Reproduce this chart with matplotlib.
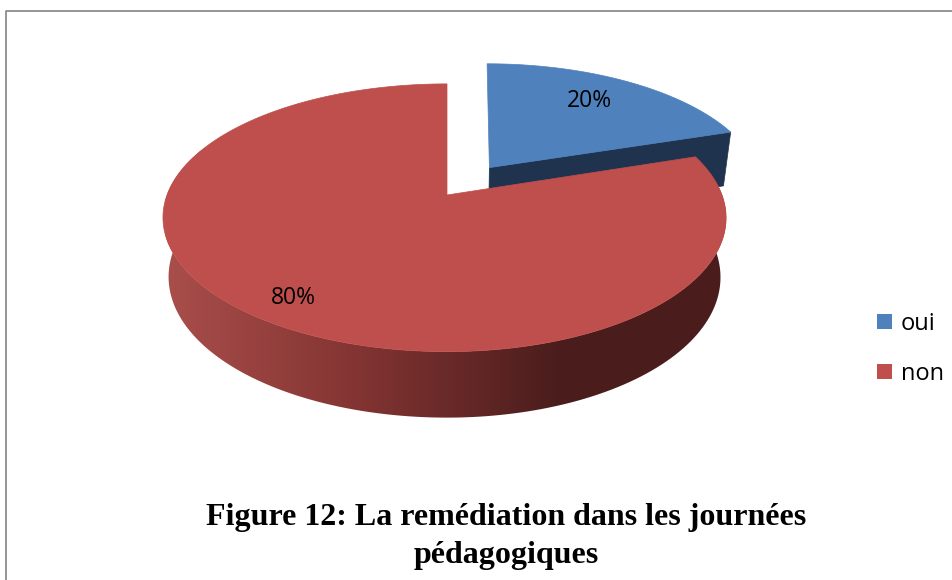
import numpy as np
import matplotlib
matplotlib.use("Agg")
import matplotlib.pyplot as plt
from matplotlib.patches import Polygon, Patch
from matplotlib.colors import LinearSegmentedColormap

categories = ["oui", "non"]
values = [20, 80]
title_lines = ["Figure 12: La remédiation dans les journées", "pédagogiques"]

BLUE = "#4F81BD"
BLUE_DARK = "#1F334F"
RED = "#BE4F4C"

# perspective of the pie, in pixels
APEX_X, APEX_Y = 447, 195
WIDTH, HEIGHT, PERSP = 277, 130, 0.17
EXPLODE = 0.27


# disc coords -> top face of the pie
def project_top(u, v):
    w = 1 + PERSP * v
    return APEX_X + WIDTH * u / w, APEX_Y - HEIGHT * v / w


# same point on the bottom face
def project_bottom(u, v):
    x, y = project_top(u, v)
    return APEX_X + (x - APEX_X) * 0.98, y + 58 - 8 * v


def arc(start, end, cu=0, cv=0):
    t = np.radians(np.linspace(start, end, 200))
    return cu + np.sin(t), cv + np.cos(t)


fig = plt.figure(figsize=(9.53, 5.8), dpi=100)
ax = fig.add_axes([0, 0, 1, 1])
ax.set_xlim(0, 953)
ax.set_ylim(580, 0)
ax.axis("off")

# chart frame
ax.plot([6.5, 6.5, 953], [580, 10.5, 10.5], color="#8E8E8E", lw=1.3)

split = 360 * values[0] / sum(values)

# exploded blue slice, leaning a bit to the right at the back
mid = np.radians(split / 2)
cu, cv = EXPLODE * np.sin(mid), EXPLODE * np.cos(mid)
au, av = arc(0, split, cu, cv)
ex, ey = project_top(au[-1], av[-1])
ex += 3 * av[-1]
ax_, ay_ = project_top(cu, cv)
bx, by = project_bottom(au[-1], av[-1])
bax, bay = project_bottom(cu, cv)
ax.add_patch(Polygon([(ax_, ay_), (ex, ey), (bx, by), (bax, bay)], closed=True,
                     fc=BLUE_DARK, ec=BLUE_DARK, lw=0.5, zorder=2))
xs, ys = project_top(au, av)
xs = xs + 3 * av
ax.add_patch(Polygon(np.r_[[[ax_, ay_]], np.c_[xs, ys]], closed=True,
                     fc=BLUE, ec=BLUE, lw=0.5, zorder=3))

# red slice, side wall with gradient
ru, rv = arc(split, 360)
tx, ty = project_top(ru, rv)
tx = tx - np.where(ru < 0, 3, 2) * np.abs(ru)
wx, wy = project_bottom(ru, rv)
wx = wx - np.where(ru < 0, 3, 2) * np.abs(ru)
wall = Polygon(np.r_[np.c_[tx, ty], np.c_[wx, wy][::-1]], closed=True,
               fc="none", ec="none", transform=ax.transData)
ax.add_patch(wall)
wall_cmap = LinearSegmentedColormap.from_list(
    "wall", [(0, "#A94E4B"), (0.33, "#843533"), (0.7, "#4A1D1C"), (1, "#4A1D1C")])
img = ax.imshow(np.linspace(0, 1, 256).reshape(1, -1), cmap=wall_cmap, aspect="auto",
                extent=(165, 730, 430, 150), zorder=4)
img.set_clip_path(wall)
ax.set_xlim(0, 953)
ax.set_ylim(580, 0)

ax.add_patch(Polygon(np.r_[[[APEX_X, APEX_Y]], np.c_[tx, ty]], closed=True,
                     fc=RED, ec=RED, lw=0.5, zorder=5))

# value labels
label_font = ["Open Sans", "DejaVu Sans"]
ax.text(589, 101, "%d%%" % values[0], ha="center", va="center", fontsize=16.5,
        family=label_font, color="black", zorder=6)
ax.text(293, 298, "%d%%" % values[1], ha="center", va="center", fontsize=16.5,
        family=label_font, color="black", zorder=6)

# legend
handles = [Patch(fc=BLUE, ec="none"), Patch(fc=RED, ec="none")]
ax.legend(handles, categories, loc="upper left", bbox_to_anchor=(872.5 / 953, 1 - 307 / 580),
          frameon=False, handlelength=0.64, handleheight=0.64, handletextpad=0.35,
          labelspacing=1.1, borderpad=0.2, borderaxespad=0,
          prop={"family": "Open Sans", "size": 17})

# caption
ax.text(506, 517, title_lines[0], ha="center", va="center", family="Liberation Serif",
        weight="bold", fontsize=23)
ax.text(506, 555, title_lines[1], ha="center", va="center", family="Liberation Serif",
        weight="bold", fontsize=23)

fig.savefig("out.png", dpi=100)
